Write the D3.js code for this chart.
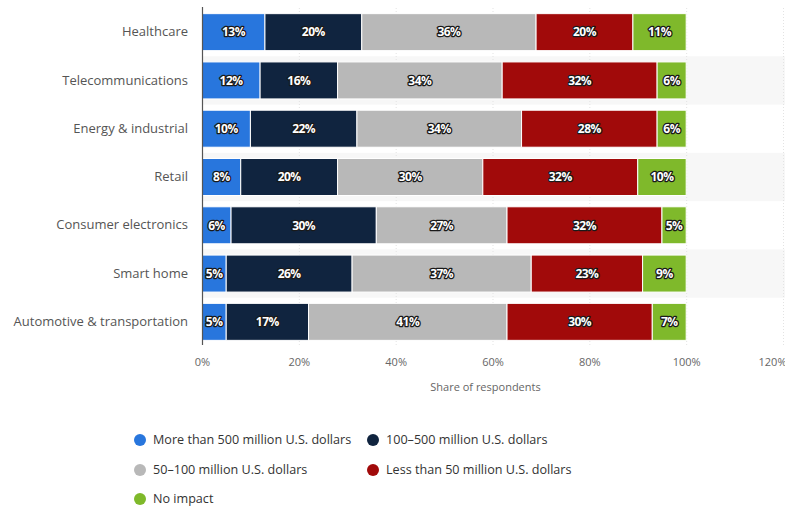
<!DOCTYPE html>
<html>
<head>
<meta charset="utf-8">
<script src="https://cdn.jsdelivr.net/npm/d3@7/dist/d3.min.js"></script>
<style>
  html, body { margin: 0; padding: 0; background: #fff; }
  svg { display: block; font-family: "Open Sans", "Noto Sans", sans-serif; }
</style>
</head>
<body>
<svg id="chart" width="785" height="509"></svg>
<script>
// Industries (top to bottom)
const categories = [
  "Healthcare",
  "Telecommunications",
  "Energy & industrial",
  "Retail",
  "Consumer electronics",
  "Smart home",
  "Automotive & transportation"
];

// Series names, colours and values (% of respondents per industry)
const seriesNames = [
  "More than 500 million U.S. dollars",
  "100-500 million U.S. dollars",
  "50-100 million U.S. dollars",
  "Less than 50 million U.S. dollars",
  "No impact"
];
const seriesColors = ["#2876dd", "#10243f", "#b8b8b8", "#a10a0a", "#7fb92b"];

const moreThan500 = [13, 12, 10, 8, 6, 5, 5];
const from100to500 = [20, 16, 22, 20, 30, 26, 17];
const from50to100 = [36, 34, 34, 30, 27, 37, 41];
const lessThan50 = [20, 32, 28, 32, 32, 23, 30];
const noImpact = [11, 6, 6, 10, 5, 9, 7];

const seriesValues = [moreThan500, from100to500, from50to100, lessThan50, noImpact];

const xTicks = [0, 20, 40, 60, 80, 100, 120];
const xTitle = "Share of respondents";

const svg = d3.select("#chart");
const margin = { left: 202, right: 2, top: 8, bottom: 163 };
const W = 785, H = 509;
const plotW = W - margin.left - margin.right;
const plotH = H - margin.top - margin.bottom;

const x = d3.scaleLinear().domain([0, 120]).range([margin.left, margin.left + plotW]);
const y = d3.scaleBand().domain(categories).range([margin.top, margin.top + plotH]).paddingInner(0.234).paddingOuter(0.117);
const bandStep = y.step();

// Alternating row bands
svg.append("g").selectAll("rect")
  .data(categories.filter((d, i) => i % 2 === 1))
  .join("rect")
  .attr("x", margin.left)
  .attr("width", W - margin.left)
  .attr("y", d => y(d) - y.step() * y.paddingInner() / 2)
  .attr("height", bandStep)
  .attr("fill", "#f7f7f7");

// Vertical grid lines
svg.append("g").selectAll("line")
  .data(xTicks.filter(t => t > 0))
  .join("line")
  .attr("x1", d => x(d) + 0.5).attr("x2", d => x(d) + 0.5)
  .attr("y1", margin.top).attr("y2", margin.top + plotH)
  .attr("stroke", "#e3e3e3")
  .attr("stroke-dasharray", "1,2");

// Stack the series
const stacked = categories.map((c, i) => {
  let acc = 0;
  return seriesValues.map((vals, s) => {
    const v = vals[i];
    const seg = { cat: c, s, v, x0: acc, x1: acc + v };
    acc += v;
    return seg;
  });
}).flat();

const segs = svg.append("g");
segs.selectAll("rect")
  .data(stacked)
  .join("rect")
  .attr("x", d => x(d.x0))
  .attr("width", d => x(d.x1) - x(d.x0))
  .attr("y", d => y(d.cat))
  .attr("height", y.bandwidth())
  .attr("fill", d => seriesColors[d.s])
  .attr("stroke", "#fff")
  .attr("stroke-width", 1);

// Data labels
segs.selectAll("text")
  .data(stacked)
  .join("text")
  .attr("x", d => (x(d.x0) + x(d.x1)) / 2)
  .attr("y", d => y(d.cat) + y.bandwidth() / 2)
  .attr("dy", "0.36em")
  .attr("text-anchor", "middle")
  .attr("font-size", 12)
  .attr("font-weight", "bold")
  .attr("letter-spacing", "-0.5")
  .attr("fill", "#fff")
  .attr("stroke", "#1a1a1a")
  .attr("stroke-width", 2.6)
  .attr("stroke-linejoin", "round")
  .attr("paint-order", "stroke")
  .text(d => d.v + "%");

// Category axis
const yAxis = svg.append("g")
  .attr("transform", `translate(${margin.left},0)`)
  .call(d3.axisLeft(y).tickSize(0).tickPadding(14));
yAxis.select(".domain").attr("stroke", "#555").attr("stroke-width", 1.2)
  .attr("d", `M0.5,${margin.top - 1}V${margin.top + plotH - 1}`);
yAxis.selectAll("text")
  .attr("font-size", 13)
  .attr("font-family", "Open Sans, sans-serif")
  .attr("fill", "#555");

// Value axis
const xAxis = svg.append("g")
  .attr("transform", `translate(0,${margin.top + plotH})`)
  .call(d3.axisBottom(x).tickValues(xTicks).tickSize(0).tickPadding(12).tickFormat(d => d + "%"));
xAxis.select(".domain").remove();
xAxis.selectAll("text")
  .attr("font-size", 11)
  .attr("font-family", "Open Sans, sans-serif")
  .attr("fill", "#666")
  .attr("text-anchor", d => d === 120 ? "end" : "middle")
  .attr("dx", d => d === 120 ? 3 : 0);

svg.append("text")
  .attr("x", (margin.left + W) / 2 - 8)
  .attr("y", 391)
  .attr("text-anchor", "middle")
  .attr("font-size", 11)
  .attr("fill", "#666")
  .text(xTitle);

// Legend
const legendPos = [
  [140, 440], [373, 440],
  [140, 470], [373, 470],
  [140, 499]
];
const legend = svg.append("g").selectAll("g")
  .data(seriesNames)
  .join("g")
  .attr("transform", (d, i) => `translate(${legendPos[i][0]},${legendPos[i][1]})`);
legend.append("circle")
  .attr("r", 6)
  .attr("fill", (d, i) => seriesColors[i]);
legend.append("text")
  .attr("x", 13)
  .attr("dy", "0.35em")
  .attr("font-size", 12.6)
  .attr("fill", "#333")
  .text(d => d.replace("-", "\u2013"));
</script>
</body>
</html>
